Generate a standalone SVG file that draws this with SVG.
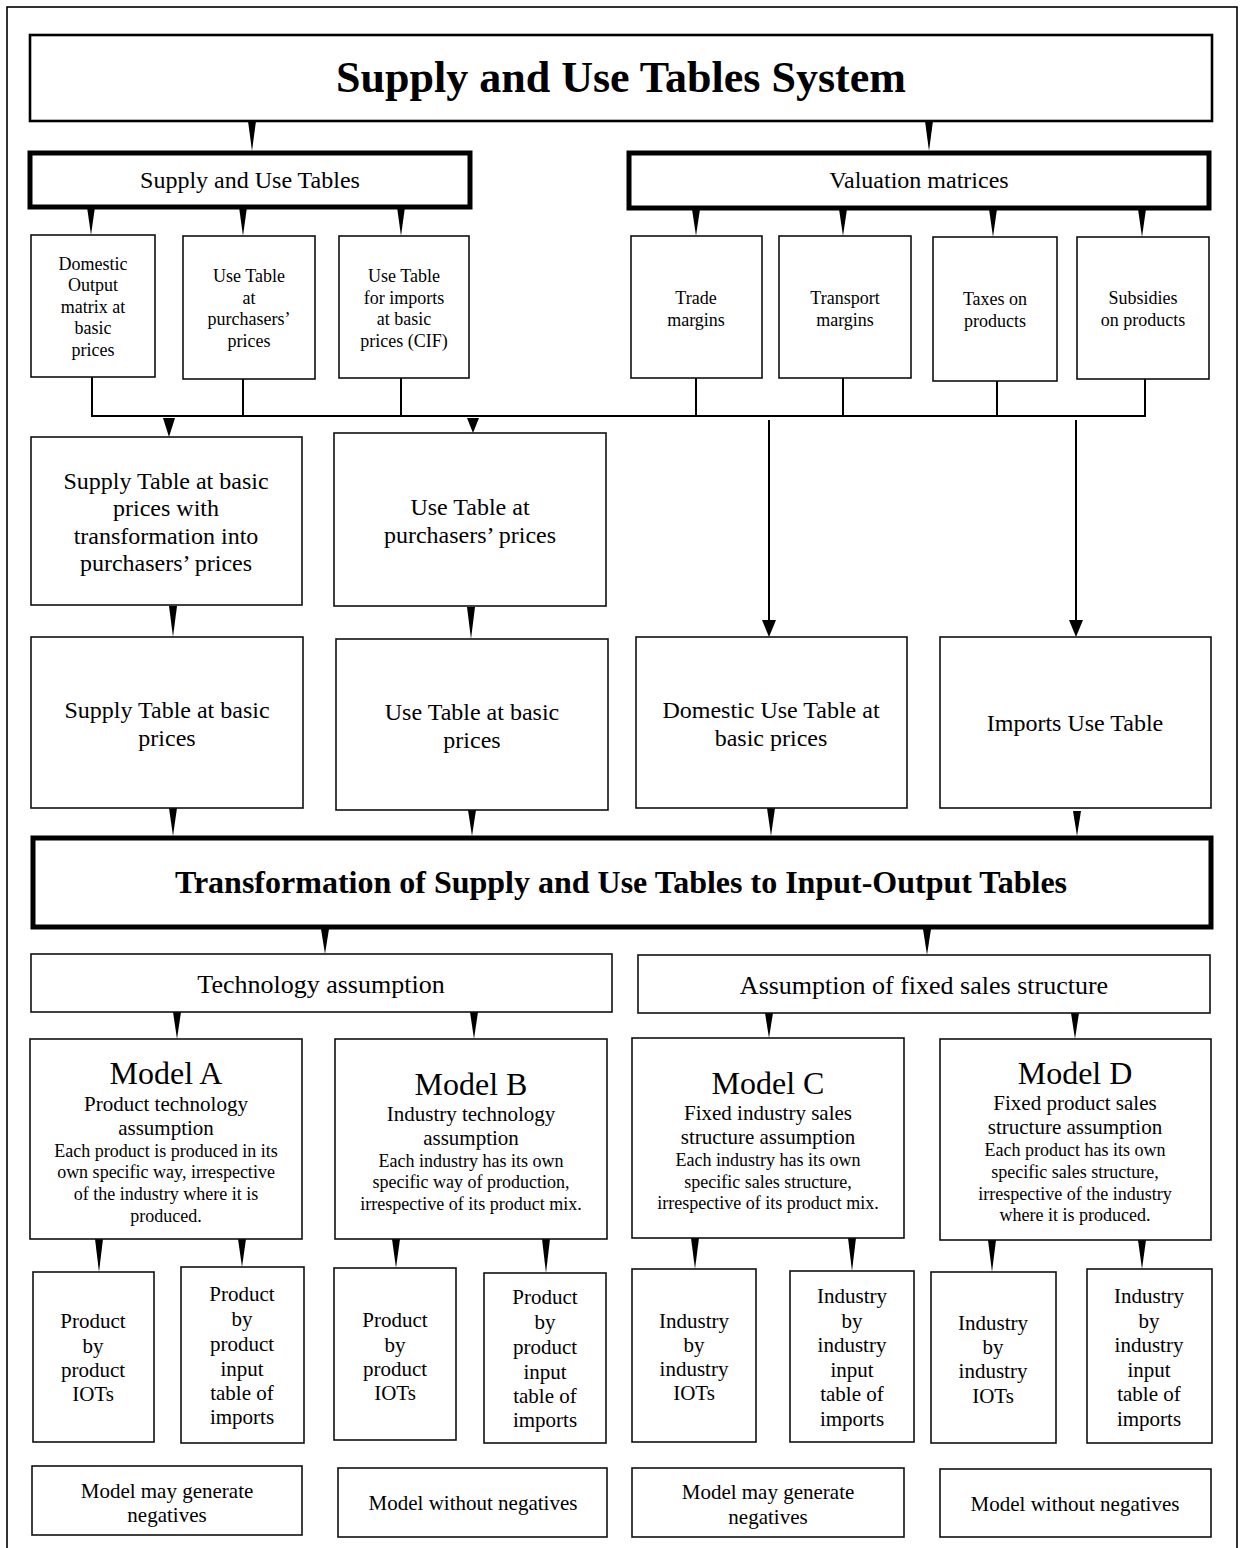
<svg xmlns="http://www.w3.org/2000/svg" width="1245" height="1548" viewBox="0 0 1245 1548">
<style>
text{font-family:"Liberation Serif","Times New Roman",serif;fill:#000;text-anchor:middle}
.b{fill:#fff;stroke:#111;stroke-width:1.6}
.t{fill:#fff;stroke:#000;stroke-width:5}
.m{fill:#fff;stroke:#000;stroke-width:2.6}
.w{fill:#000}
.ln{stroke:#000;stroke-width:2;fill:none}
.fa{font-family:"Liberation Serif","Times New Roman",serif;font-size:18px}
.fb{font-family:"Liberation Serif","Times New Roman",serif;font-size:21px}
.fc{font-family:"Liberation Serif","Times New Roman",serif;font-size:24px}
.fd{font-family:"Liberation Serif","Times New Roman",serif;font-size:26px}
.fe{font-family:"Liberation Serif","Times New Roman",serif;font-size:32px}
.fh{font-family:"Liberation Serif","Times New Roman",serif;font-weight:bold}
</style>
<rect x="0" y="0" width="1245" height="1548" fill="#fff"/>
<rect x="7" y="7" width="1230" height="1560" fill="none" stroke="#000" stroke-width="1.6"/>

<g id="connectors">
<polygon class="w" points="248,121 256,121 252,151"/>
<polygon class="w" points="925,121 933,121 929,151"/>
<polygon class="w" points="87,207 95,207 91,235"/>
<polygon class="w" points="239,207 247,207 243,236"/>
<polygon class="w" points="397,207 405,207 401,236"/>
<polygon class="w" points="692,209 700,209 696,236"/>
<polygon class="w" points="839,209 847,209 843,236"/>
<polygon class="w" points="989,209 997,209 993,237"/>
<polygon class="w" points="1138,209 1146,209 1142,237"/>
<path class="ln" d="M92,377 V416 M243,379 V416 M401,378 V416 M696,378 V416 M843,378 V416 M997,381 V417 M1145,379 V416 M91,416 H1146"/>
<polygon class="w" points="163,418 175,418 169,437"/>
<polygon class="w" points="467,418 479,418 473,433"/>
<line class="ln" x1="769" y1="420" x2="769" y2="624"/>
<polygon class="w" points="762,620 776,620 769,637"/>
<line class="ln" x1="1076" y1="420" x2="1076" y2="624"/>
<polygon class="w" points="1069,620 1083,620 1076,637"/>
<polygon class="w" points="169,606 177,606 173,637"/>
<polygon class="w" points="467,607 475,607 471,639"/>
<polygon class="w" points="169,808 177,808 173,836"/>
<polygon class="w" points="468,810 476,810 472,836"/>
<polygon class="w" points="767,808 775,808 771,836"/>
<polygon class="w" points="1073,811 1081,811 1077,836"/>
<polygon class="w" points="321,929 329,929 325,954"/>
<polygon class="w" points="923,929 931,929 927,955"/>
<polygon class="w" points="173,1012 181,1012 177,1039"/>
<polygon class="w" points="470,1012 478,1012 474,1039"/>
<polygon class="w" points="765,1013 773,1013 769,1038"/>
<polygon class="w" points="1071,1013 1079,1013 1075,1039"/>
<polygon class="w" points="95,1239 103,1239 99,1272"/>
<polygon class="w" points="238,1239 246,1239 242,1267"/>
<polygon class="w" points="392,1239 400,1239 396,1268"/>
<polygon class="w" points="542,1239 550,1239 546,1273"/>
<polygon class="w" points="691,1238 699,1238 695,1269"/>
<polygon class="w" points="848,1238 856,1238 852,1271"/>
<polygon class="w" points="988,1240 996,1240 992,1272"/>
<polygon class="w" points="1138,1240 1146,1240 1142,1269"/>
</g>

<g id="title">
<rect class="m" x="30" y="35" width="1182" height="86"/>
<text class="fh" x="621" y="92" font-size="44">Supply and Use Tables System</text>
</g>

<g id="sut">
<rect class="t" x="30" y="153" width="440" height="54"/>
<text class="fc" x="250" y="188">Supply and Use Tables</text>
</g>
<g id="valuation">
<rect class="t" x="629" y="153" width="580" height="55"/>
<text class="fc" x="919" y="188">Valuation matrices</text>
</g>

<g id="domestic-output">
<rect class="b" x="31" y="235" width="124" height="142"/>
<text class="fa"><tspan x="93" y="270">Domestic</tspan><tspan x="93" y="291">Output</tspan><tspan x="93" y="313">matrix at</tspan><tspan x="93" y="334">basic</tspan><tspan x="93" y="356">prices</tspan></text>
</g>
<g id="use-purch-small">
<rect class="b" x="183" y="236" width="132" height="143"/>
<text class="fa"><tspan x="249" y="282">Use Table</tspan><tspan x="249" y="304">at</tspan><tspan x="249" y="325">purchasers’</tspan><tspan x="249" y="347">prices</tspan></text>
</g>
<g id="use-imports">
<rect class="b" x="339" y="236" width="130" height="142"/>
<text class="fa"><tspan x="404" y="282">Use Table</tspan><tspan x="404" y="304">for imports</tspan><tspan x="404" y="325">at basic</tspan><tspan x="404" y="347">prices (CIF)</tspan></text>
</g>
<g id="trade">
<rect class="b" x="631" y="236" width="131" height="142"/>
<text class="fa"><tspan x="696" y="304">Trade</tspan><tspan x="696" y="326">margins</tspan></text>
</g>
<g id="transport">
<rect class="b" x="779" y="236" width="132" height="142"/>
<text class="fa"><tspan x="845" y="304">Transport</tspan><tspan x="845" y="326">margins</tspan></text>
</g>
<g id="taxes">
<rect class="b" x="933" y="237" width="124" height="144"/>
<text class="fa"><tspan x="995" y="305">Taxes on</tspan><tspan x="995" y="327">products</tspan></text>
</g>
<g id="subsidies">
<rect class="b" x="1077" y="237" width="132" height="142"/>
<text class="fa"><tspan x="1143" y="304">Subsidies</tspan><tspan x="1143" y="326">on products</tspan></text>
</g>

<g id="supply-trans">
<rect class="b" x="31" y="437" width="271" height="168"/>
<text class="fc"><tspan x="166" y="489">Supply Table at basic</tspan><tspan x="166" y="516">prices with</tspan><tspan x="166" y="544">transformation into</tspan><tspan x="166" y="571">purchasers’ prices</tspan></text>
</g>
<g id="use-purch">
<rect class="b" x="334" y="433" width="272" height="173"/>
<text class="fc"><tspan x="470" y="515">Use Table at</tspan><tspan x="470" y="543">purchasers’ prices</tspan></text>
</g>

<g id="supply-basic">
<rect class="b" x="31" y="637" width="272" height="171"/>
<text class="fc"><tspan x="167" y="718">Supply Table at basic</tspan><tspan x="167" y="746">prices</tspan></text>
</g>
<g id="use-basic">
<rect class="b" x="336" y="639" width="272" height="171"/>
<text class="fc"><tspan x="472" y="720">Use Table at basic</tspan><tspan x="472" y="748">prices</tspan></text>
</g>
<g id="domestic-use">
<rect class="b" x="636" y="637" width="271" height="171"/>
<text class="fc"><tspan x="771" y="718">Domestic Use Table at</tspan><tspan x="771" y="746">basic prices</tspan></text>
</g>
<g id="imports-use">
<rect class="b" x="940" y="637" width="271" height="171"/>
<text class="fc"><tspan x="1075" y="731">Imports Use Table</tspan></text>
</g>

<g id="transformation">
<rect class="t" x="33" y="838" width="1178" height="89"/>
<text class="fh" x="621" y="893" font-size="32">Transformation of Supply and Use Tables to Input-Output Tables</text>
</g>

<g id="technology">
<rect class="b" x="31" y="954" width="581" height="58"/>
<text class="fd" x="321" y="993">Technology assumption</text>
</g>
<g id="fixed-sales">
<rect class="b" x="638" y="955" width="572" height="58"/>
<text class="fd" x="924" y="994">Assumption of fixed sales structure</text>
</g>

<g id="model-a">
<rect class="b" x="30" y="1039" width="272" height="200"/>
<text class="fe" x="166" y="1084">Model A</text>
<text class="fb"><tspan x="166" y="1111">Product technology</tspan><tspan x="166" y="1135">assumption</tspan></text>
<text class="fa"><tspan x="166" y="1157">Each product is produced in its</tspan><tspan x="166" y="1178">own specific way, irrespective</tspan><tspan x="166" y="1200">of the industry where it is</tspan><tspan x="166" y="1222">produced.</tspan></text>
</g>
<g id="model-b">
<rect class="b" x="335" y="1039" width="272" height="200"/>
<text class="fe" x="471" y="1095">Model B</text>
<text class="fb"><tspan x="471" y="1121">Industry technology</tspan><tspan x="471" y="1145">assumption</tspan></text>
<text class="fa"><tspan x="471" y="1167">Each industry has its own</tspan><tspan x="471" y="1188">specific way of production,</tspan><tspan x="471" y="1210">irrespective of its product mix.</tspan></text>
</g>
<g id="model-c">
<rect class="b" x="632" y="1038" width="272" height="200"/>
<text class="fe" x="768" y="1094">Model C</text>
<text class="fb"><tspan x="768" y="1120">Fixed industry sales</tspan><tspan x="768" y="1144">structure assumption</tspan></text>
<text class="fa"><tspan x="768" y="1166">Each industry has its own</tspan><tspan x="768" y="1188">specific sales structure,</tspan><tspan x="768" y="1209">irrespective of its product mix.</tspan></text>
</g>
<g id="model-d">
<rect class="b" x="940" y="1039" width="271" height="201"/>
<text class="fe" x="1075" y="1084">Model D</text>
<text class="fb"><tspan x="1075" y="1110">Fixed product sales</tspan><tspan x="1075" y="1134">structure assumption</tspan></text>
<text class="fa"><tspan x="1075" y="1156">Each product has its own</tspan><tspan x="1075" y="1178">specific sales structure,</tspan><tspan x="1075" y="1200">irrespective of the industry</tspan><tspan x="1075" y="1221">where it is produced.</tspan></text>
</g>

<g id="a-iot">
<rect class="b" x="33" y="1272" width="121" height="170"/>
<text class="fb"><tspan x="93" y="1328">Product</tspan><tspan x="93" y="1353">by</tspan><tspan x="93" y="1377">product</tspan><tspan x="93" y="1401">IOTs</tspan></text>
</g>
<g id="a-imp">
<rect class="b" x="181" y="1267" width="123" height="176"/>
<text class="fb"><tspan x="242" y="1301">Product</tspan><tspan x="242" y="1326">by</tspan><tspan x="242" y="1351">product</tspan><tspan x="242" y="1376">input</tspan><tspan x="242" y="1400">table of</tspan><tspan x="242" y="1424">imports</tspan></text>
</g>
<g id="b-iot">
<rect class="b" x="334" y="1268" width="122" height="172"/>
<text class="fb"><tspan x="395" y="1327">Product</tspan><tspan x="395" y="1352">by</tspan><tspan x="395" y="1376">product</tspan><tspan x="395" y="1400">IOTs</tspan></text>
</g>
<g id="b-imp">
<rect class="b" x="484" y="1273" width="122" height="170"/>
<text class="fb"><tspan x="545" y="1304">Product</tspan><tspan x="545" y="1329">by</tspan><tspan x="545" y="1354">product</tspan><tspan x="545" y="1379">input</tspan><tspan x="545" y="1403">table of</tspan><tspan x="545" y="1427">imports</tspan></text>
</g>
<g id="c-iot">
<rect class="b" x="632" y="1269" width="124" height="173"/>
<text class="fb"><tspan x="694" y="1328">Industry</tspan><tspan x="694" y="1352">by</tspan><tspan x="694" y="1376">industry</tspan><tspan x="694" y="1400">IOTs</tspan></text>
</g>
<g id="c-imp">
<rect class="b" x="790" y="1271" width="124" height="171"/>
<text class="fb"><tspan x="852" y="1303">Industry</tspan><tspan x="852" y="1328">by</tspan><tspan x="852" y="1352">industry</tspan><tspan x="852" y="1377">input</tspan><tspan x="852" y="1401">table of</tspan><tspan x="852" y="1426">imports</tspan></text>
</g>
<g id="d-iot">
<rect class="b" x="931" y="1272" width="125" height="171"/>
<text class="fb"><tspan x="993" y="1330">Industry</tspan><tspan x="993" y="1354">by</tspan><tspan x="993" y="1378">industry</tspan><tspan x="993" y="1403">IOTs</tspan></text>
</g>
<g id="d-imp">
<rect class="b" x="1087" y="1269" width="125" height="174"/>
<text class="fb"><tspan x="1149" y="1303">Industry</tspan><tspan x="1149" y="1328">by</tspan><tspan x="1149" y="1352">industry</tspan><tspan x="1149" y="1377">input</tspan><tspan x="1149" y="1401">table of</tspan><tspan x="1149" y="1426">imports</tspan></text>
</g>

<g id="neg-a">
<rect class="b" x="32" y="1466" width="270" height="69"/>
<text class="fb"><tspan x="167" y="1498">Model may generate</tspan><tspan x="167" y="1522">negatives</tspan></text>
</g>
<g id="neg-b">
<rect class="b" x="338" y="1468" width="269" height="69"/>
<text class="fb" x="473" y="1510">Model without negatives</text>
</g>
<g id="neg-c">
<rect class="b" x="632" y="1468" width="272" height="69"/>
<text class="fb"><tspan x="768" y="1499">Model may generate</tspan><tspan x="768" y="1524">negatives</tspan></text>
</g>
<g id="neg-d">
<rect class="b" x="940" y="1469" width="271" height="68"/>
<text class="fb" x="1075" y="1511">Model without negatives</text>
</g>
</svg>
